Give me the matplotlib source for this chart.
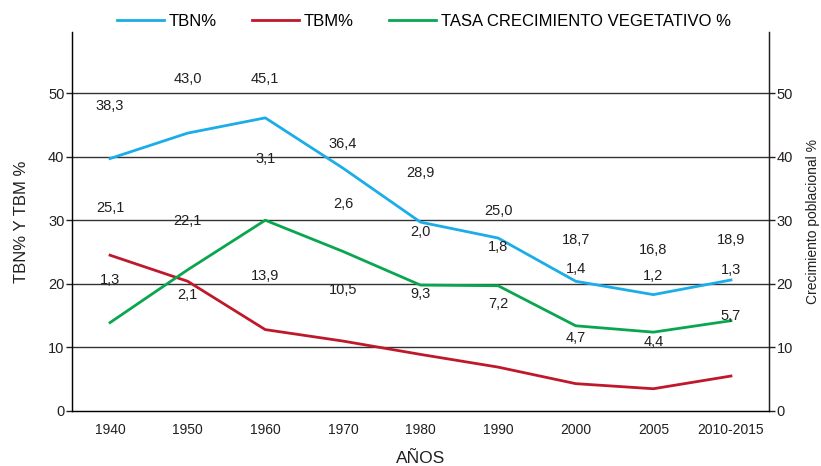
import matplotlib
matplotlib.use('Agg')
import matplotlib.pyplot as plt

plt.rcParams['font.family'] = ['Liberation Sans', 'DejaVu Sans']

# datos
categorias = ['1940', '1950', '1960', '1970', '1980', '1990', '2000', '2005', '2010-2015']

# trazado de las lineas
tbn_linea = [39.7, 43.7, 46.1, 38.2, 29.7, 27.2, 20.4, 18.3, 20.6]
tbm_linea = [24.5, 20.4, 12.8, 11.0, 8.9, 6.9, 4.3, 3.5, 5.5]
crec_linea = [13.9, 22.2, 30.0, 25.1, 19.8, 19.7, 13.4, 12.4, 14.2]

# valores rotulados
tbn = [38.3, 43.0, 45.1, 36.4, 28.9, 25.0, 18.7, 16.8, 18.9]
tbm = [25.1, 22.1, 13.9, 10.5, 9.3, 7.2, 4.7, 4.4, 5.7]
crec = [1.3, 2.1, 3.1, 2.6, 2.0, 1.8, 1.4, 1.2, 1.3]

# altura de los rotulos
tbn_y = [47.9, 52.2, 52.2, 42.0, 37.4, 31.4, 26.9, 25.3, 26.9]
tbm_y = [31.9, 29.9, 21.3, 19.1, 18.4, 16.9, 11.5, 10.9, 15.0]
crec_y = [20.6, 18.2, 39.6, 32.5, 28.2, 25.8, 22.4, 21.3, 22.2]

azul = '#1aade8'
rojo = '#c0182b'
verde = '#0aa64f'
negro = '#231f20'

fig = plt.figure(figsize=(8.21, 4.66), dpi=100)
ax = fig.add_axes([72 / 821, 55 / 466, 697 / 821, 379 / 466])

x = list(range(len(categorias)))
ax.set_ylim(0, 59.6)
ax.set_xlim(-0.49, 8.49)

for v in [10, 20, 30, 40, 50]:
    ax.axhline(v, color='#333333', lw=1.0, zorder=1)

l1, = ax.plot(x, tbn_linea, color=azul, lw=2.0, zorder=3, label='TBN%')
l2, = ax.plot(x, tbm_linea, color=rojo, lw=2.0, zorder=3, label='TBM%')
l3, = ax.plot(x, crec_linea, color=verde, lw=2.0, zorder=3, label='TASA CRECIMIENTO VEGETATIVO %')

fmt = lambda v: f'{v:.1f}'.replace('.', ',')
for i in x:
    ax.text(i, tbn_y[i], fmt(tbn[i]), ha='center', va='center', fontsize=10.5, color=negro)
    ax.text(i, tbm_y[i], fmt(tbm[i]), ha='center', va='center', fontsize=10.5, color=negro)
    ax.text(i, crec_y[i], fmt(crec[i]), ha='center', va='center', fontsize=10.5, color=negro)

ax.set_xticks(x)
ax.set_xticklabels(categorias)
ax.set_yticks([0, 10, 20, 30, 40, 50])
ax.tick_params(axis='x', length=0, pad=9, labelsize=10, colors=negro)
ax.tick_params(axis='y', length=4, width=1, pad=1.5, labelsize=10.5, colors=negro)
ax.spines['top'].set_visible(False)
for s in ['left', 'right', 'bottom']:
    ax.spines[s].set_color(negro)
    ax.spines[s].set_linewidth(1.0)

ax.set_xlabel('AÑOS', fontsize=12.5, color=negro, labelpad=10)
ax.set_ylabel('TBN% Y TBM %', fontsize=12, color=negro, labelpad=14)

ax2 = ax.twinx()
ax2.set_ylim(0, 59.6)
ax2.set_yticks([0, 10, 20, 30, 40, 50])
ax2.tick_params(axis='y', length=4, width=1, pad=1.5, labelsize=10.5, colors=negro)
ax2.spines['top'].set_visible(False)
ax2.spines['right'].set_color(negro)
ax2.set_ylabel('Crecimiento poblacional %', fontsize=10, color=negro, labelpad=9)

fig.legend(handles=[l1, l2, l3], loc='center', bbox_to_anchor=(424 / 821, 1 - 21 / 466),
           ncol=3, frameon=False, fontsize=12, handlelength=2.8, handletextpad=0.3,
           columnspacing=2.1)

fig.savefig('out.png', dpi=100)
